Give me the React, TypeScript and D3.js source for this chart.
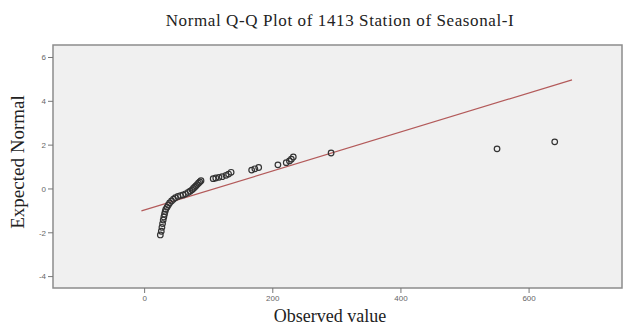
import { useEffect, useRef } from 'react'
import * as d3 from 'd3'

const observed = [
  24.5, 26, 27, 28, 29, 30, 31, 32, 33, 35, 37, 39, 42, 45, 48, 52, 56, 60, 64, 68,
  71, 74, 76, 78, 80, 82, 84, 86, 88, 107, 111, 116, 121, 127, 131, 135, 167, 172, 178,
  208, 221, 226, 229, 232, 291, 550, 640,
]
const expected = [
  -2.1, -1.93, -1.75, -1.58, -1.42, -1.28, -1.15, -1.03, -0.93, -0.83, -0.73, -0.64,
  -0.55, -0.47, -0.4, -0.34, -0.3, -0.27, -0.22, -0.16, -0.1, -0.04, 0.02, 0.08, 0.14,
  0.2, 0.26, 0.32, 0.38, 0.47, 0.5, 0.53, 0.56, 0.62, 0.68, 0.76, 0.86, 0.92, 0.98,
  1.1, 1.2, 1.28, 1.36, 1.46, 1.64, 1.83, 2.15,
]
const refLineX = [-5, 667]
const refLineY = [-1.0, 4.98]
const xTicks = [0, 200, 400, 600]
const yTicks = [-4, -2, 0, 2, 4, 6]

export default function App() {
  const svgRef = useRef<SVGSVGElement>(null)

  useEffect(() => {
    if (!svgRef.current) return
    const svg = d3.select(svgRef.current)
    svg.selectAll('*').remove()

    const width = 627
    const height = 327
    const left = 53, right = 622, top = 45, bottom = 288

    svg.attr('width', width).attr('height', height)

    const x = d3.scaleLinear().domain([-143, 745]).range([left, right])
    const y = d3.scaleLinear().domain([-4.52, 6.57]).range([bottom, top])

    svg.append('rect')
      .attr('width', width).attr('height', height).attr('fill', '#fff')

    svg.append('rect')
      .attr('x', left).attr('y', top)
      .attr('width', right - left).attr('height', bottom - top)
      .attr('fill', '#f0f0f0')
      .attr('stroke', '#8c8c8c')
      .attr('stroke-width', 1.5)

    // y axis ticks
    const yAxis = svg.append('g')
    yTicks.forEach(t => {
      yAxis.append('line')
        .attr('x1', left - 5).attr('x2', left)
        .attr('y1', y(t)).attr('y2', y(t))
        .attr('stroke', '#777')
      yAxis.append('text')
        .attr('x', left - 7).attr('y', y(t))
        .attr('dy', '0.35em')
        .attr('text-anchor', 'end')
        .style('font-family', 'Arial, "Liberation Sans", sans-serif')
        .style('font-size', '8px')
        .style('fill', '#666')
        .text(t)
    })

    // x axis ticks
    const xAxis = svg.append('g')
    xTicks.forEach(t => {
      xAxis.append('line')
        .attr('x1', x(t)).attr('x2', x(t))
        .attr('y1', bottom).attr('y2', bottom + 5)
        .attr('stroke', '#777')
      xAxis.append('text')
        .attr('x', x(t)).attr('y', bottom + 13)
        .attr('text-anchor', 'middle')
        .style('font-family', 'Arial, "Liberation Sans", sans-serif')
        .style('font-size', '8px')
        .style('fill', '#666')
        .text(t)
    })

    // reference line
    const line = d3.line<number>()
      .x(d => x(refLineX[d]))
      .y(d => y(refLineY[d]))
    svg.append('path')
      .attr('d', line([0, 1]))
      .attr('fill', 'none')
      .attr('stroke', '#b35a5a')
      .attr('stroke-width', 1.2)

    // points
    svg.append('g')
      .selectAll('circle')
      .data(observed)
      .enter().append('circle')
      .attr('cx', d => x(d))
      .attr('cy', (d, i) => y(expected[i]))
      .attr('r', 2.8)
      .attr('fill', 'none')
      .attr('stroke', '#333')
      .attr('stroke-width', 1.2)

    const serif = '"Times New Roman", "Liberation Serif", serif'

    svg.append('text')
      .attr('x', 340).attr('y', 26)
      .attr('text-anchor', 'middle')
      .style('font-family', serif)
      .style('font-size', '17px')
      .style('letter-spacing', '0.6px')
      .style('fill', '#222')
      .text('Normal Q-Q Plot of 1413 Station of Seasonal-I')

    svg.append('text')
      .attr('x', 330).attr('y', 322)
      .attr('text-anchor', 'middle')
      .style('font-family', serif)
      .style('font-size', '18px')
      .style('fill', '#222')
      .text('Observed value')

    svg.append('text')
      .attr('transform', 'translate(24, 162) rotate(-90)')
      .attr('text-anchor', 'middle')
      .style('font-family', serif)
      .style('font-size', '19px')
      .style('fill', '#222')
      .text('Expected Normal')
  }, [])

  return (
    <div style={{ position: 'absolute', left: 0, top: 0 }}>
      <svg ref={svgRef} style={{ display: 'block' }}></svg>
    </div>
  )
}
